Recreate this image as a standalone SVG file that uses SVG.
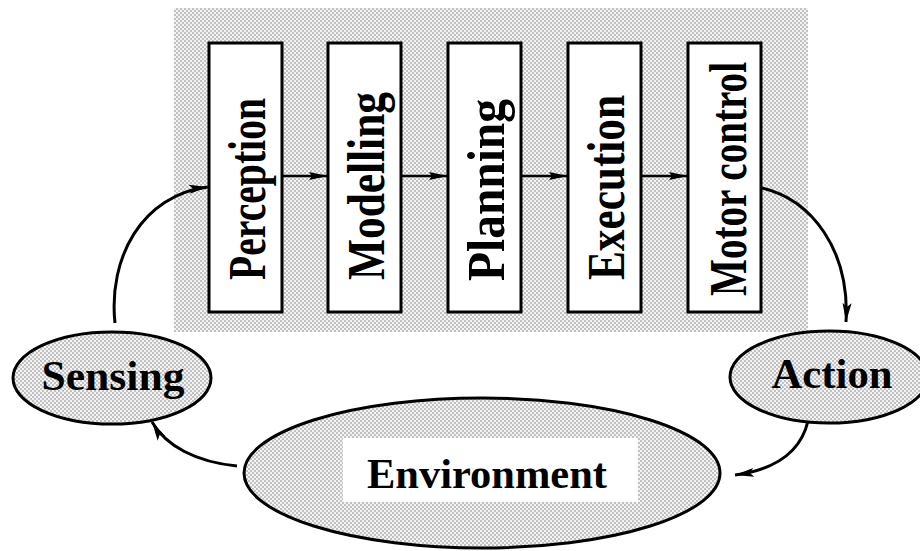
<svg xmlns="http://www.w3.org/2000/svg" width="920" height="551" viewBox="0 0 920 551">
  <defs>
    <!-- halftone-like dotted shading -->
    <pattern id="dots" width="4" height="4" patternUnits="userSpaceOnUse">
      <rect width="4" height="4" fill="#f4f4f4"/>
      <circle cx="1" cy="1" r="0.8" fill="#808080"/>
      <circle cx="3" cy="3" r="0.8" fill="#808080"/>
    </pattern>
    <marker id="head" markerUnits="userSpaceOnUse" markerWidth="20" markerHeight="12" viewBox="0 0 20 12" refX="19" refY="6" orient="auto">
      <path d="M0,1.5 L19,6 L0,10.5 L4,6 Z" fill="#000"/>
    </marker>
    <marker id="headSmall" markerUnits="userSpaceOnUse" markerWidth="20" markerHeight="10" viewBox="0 0 20 10" refX="19" refY="5" orient="auto">
      <path d="M0,1 L19,5 L0,9 L3,5 Z" fill="#000"/>
    </marker>
  </defs>
  <style>
    .shade { fill: url(#dots); }
    .box { fill: #fff; stroke: #000; stroke-width: 3; }
    .oval { fill: url(#dots); stroke: #000; stroke-width: 3; }
    .lbl { font-family: "Liberation Serif", "Times New Roman", serif; font-weight: bold; fill: #000; }
    .vlbl { font-size: 53px; }
    .hlbl { font-size: 43px; text-anchor: middle; }
    .link { fill: none; stroke: #000; stroke-width: 3; marker-end: url(#head); }
    .step { fill: none; stroke: #000; stroke-width: 2.5; marker-end: url(#headSmall); }
  </style>

  <!-- shaded processing panel -->
  <rect id="panel" class="shade" x="174" y="8" width="634" height="324"/>

  <g id="perception">
    <rect class="box" x="209" y="43" width="73" height="269"/>
    <text class="lbl vlbl" transform="translate(265,280) rotate(-90)" textLength="182" lengthAdjust="spacingAndGlyphs">Perception</text>
  </g>
  <g id="modelling">
    <rect class="box" x="328" y="43" width="73" height="269"/>
    <text class="lbl vlbl" transform="translate(384,280) rotate(-90)" textLength="188" lengthAdjust="spacingAndGlyphs">Modelling</text>
  </g>
  <g id="planning">
    <rect class="box" x="448" y="43" width="73" height="269"/>
    <text class="lbl vlbl" transform="translate(504,281) rotate(-90)" textLength="182" lengthAdjust="spacingAndGlyphs">Planning</text>
  </g>
  <g id="execution">
    <rect class="box" x="568" y="43" width="73" height="269"/>
    <text class="lbl vlbl" transform="translate(624,280) rotate(-90)" textLength="185" lengthAdjust="spacingAndGlyphs">Execution</text>
  </g>
  <g id="motor-control">
    <rect class="box" x="688" y="43" width="73" height="269"/>
    <text class="lbl vlbl" transform="translate(746,296) rotate(-90)" font-size="48" textLength="234" lengthAdjust="spacingAndGlyphs">Motor control</text>
  </g>

  <g id="sensing">
    <ellipse class="oval" cx="112" cy="378" rx="99" ry="46"/>
    <text class="lbl hlbl" x="113" y="390" textLength="143" lengthAdjust="spacingAndGlyphs">Sensing</text>
  </g>
  <g id="action">
    <ellipse class="oval" cx="829" cy="377" rx="99" ry="46"/>
    <text class="lbl hlbl" x="832" y="388" textLength="121" lengthAdjust="spacingAndGlyphs">Action</text>
  </g>
  <g id="environment">
    <ellipse class="oval" cx="482" cy="473" rx="238" ry="75"/>
    <rect x="343" y="438" width="295" height="64" fill="#fff"/>
    <text class="lbl hlbl" x="487" y="488" font-size="41" textLength="240" lengthAdjust="spacingAndGlyphs">Environment</text>
  </g>

  <g id="connectors">
    <path class="step" d="M282,176 L328,176"/>
    <path class="step" d="M401,176 L448,176"/>
    <path class="step" d="M521,176 L568,176"/>
    <path class="step" d="M641,176 L688,176"/>
    <path class="link" d="M115,323 C108,258 142,195 208,187"/>
    <path class="link" d="M762,188 C812,200 850,250 846,322"/>
    <path class="link" d="M808,421 C800,455 772,470 735,475"/>
    <path class="link" d="M237,466 C196,462 166,446 152,422"/>
  </g>
</svg>
